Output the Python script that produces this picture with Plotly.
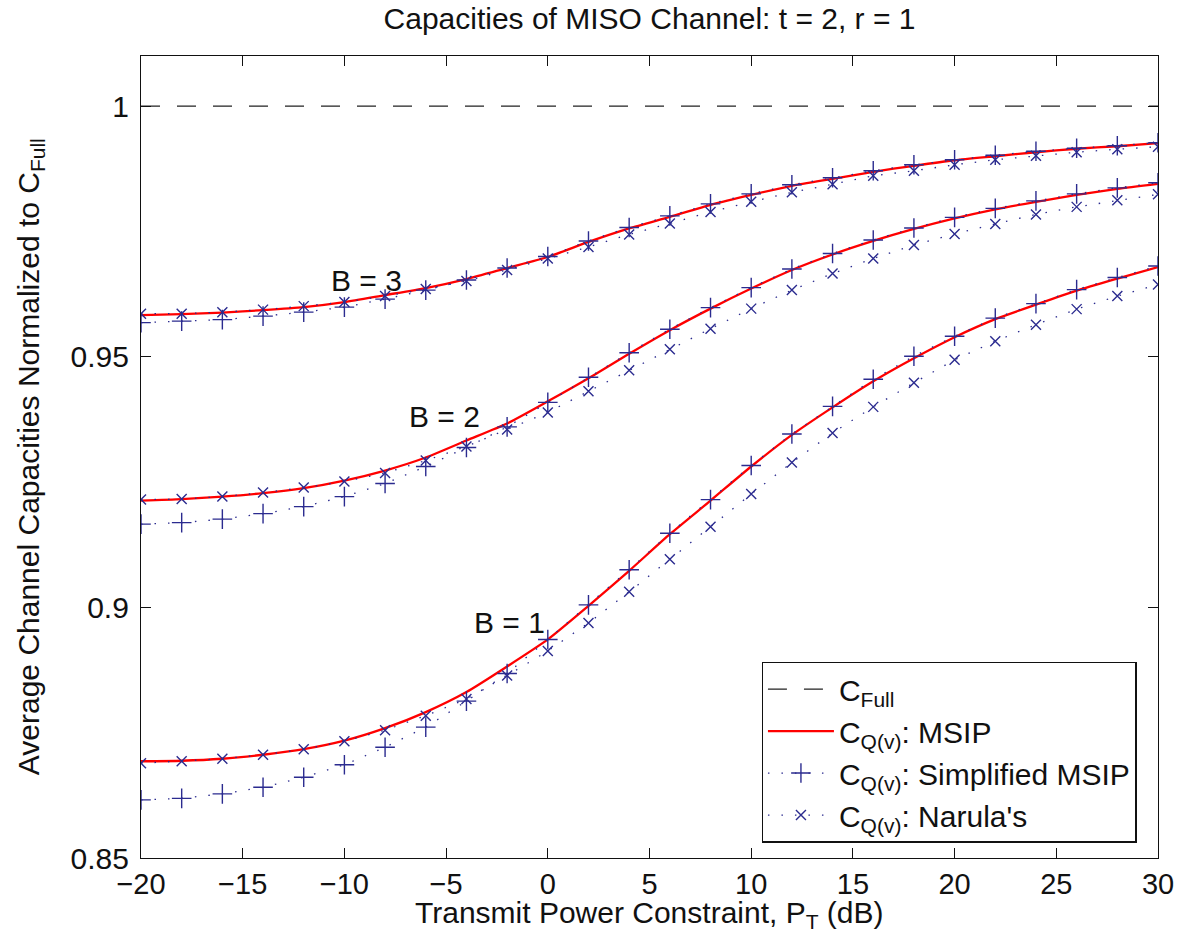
import plotly.graph_objects as go

# ---------------- data ----------------
x_db = [-20, -18, -16, -14, -12, -10, -8, -6, -4, -2, 0, 2, 4, 6, 8, 10,
        12, 14, 16, 18, 20, 22, 24, 26, 28, 30]

c_full = [1.0, 1.0]
c_full_x = [-20, 30]

msip_b1 = [0.8693, 0.8694, 0.8698, 0.8706, 0.8717, 0.8734, 0.8759, 0.8791, 0.8831, 0.8882,
           0.8936, 0.9003, 0.9073, 0.9146, 0.9213, 0.9281, 0.9344, 0.9399, 0.9451, 0.9497,
           0.9539, 0.9575, 0.9604, 0.9632, 0.9656, 0.9679]
simp_b1 = [0.8616, 0.8619, 0.8628, 0.8641, 0.8661, 0.8686, 0.8721, 0.8761, 0.8813, 0.8868,
           0.8936, 0.9005, 0.9075, 0.9148, 0.9215, 0.9283, 0.9346, 0.9401, 0.9455, 0.9501,
           0.9541, 0.9577, 0.9606, 0.9634, 0.9658, 0.9681]
narula_b1 = [0.8689, 0.8693, 0.8698, 0.8706, 0.8717, 0.8733, 0.8755, 0.8784, 0.8817, 0.8864,
             0.8913, 0.8969, 0.9031, 0.9096, 0.9161, 0.9226, 0.9289, 0.9348, 0.9400, 0.9448,
             0.9494, 0.9531, 0.9564, 0.9595, 0.9621, 0.9644]

msip_b2 = [0.9213, 0.9216, 0.9221, 0.9228, 0.9238, 0.9253, 0.9273, 0.9299, 0.9333, 0.9367,
           0.9411, 0.9457, 0.9506, 0.9553, 0.9596, 0.9636, 0.9673, 0.9704, 0.9731, 0.9755,
           0.9776, 0.9794, 0.9809, 0.9823, 0.9835, 0.9845]
simp_b2 = [0.9166, 0.9169, 0.9176, 0.9187, 0.9201, 0.9221, 0.9247, 0.9281, 0.9319, 0.9360,
           0.9409, 0.9459, 0.9508, 0.9555, 0.9598, 0.9638, 0.9675, 0.9706, 0.9733, 0.9757,
           0.9778, 0.9796, 0.9811, 0.9825, 0.9837, 0.9847]
narula_b2 = [0.9215, 0.9216, 0.9221, 0.9229, 0.9239, 0.9251, 0.9268, 0.9293, 0.9321, 0.9355,
             0.9389, 0.9431, 0.9473, 0.9515, 0.9556, 0.9596, 0.9633, 0.9666, 0.9696, 0.9723,
             0.9745, 0.9765, 0.9784, 0.9799, 0.9812, 0.9824]

msip_b3 = [0.9583, 0.9585, 0.9588, 0.9593, 0.9599, 0.9609, 0.9623, 0.9637, 0.9655, 0.9677,
           0.9699, 0.9729, 0.9756, 0.9779, 0.9803, 0.9823, 0.9841, 0.9855, 0.9869, 0.9881,
           0.9892, 0.9900, 0.9908, 0.9915, 0.9920, 0.9926]
simp_b3 = [0.9568, 0.9571, 0.9574, 0.9581, 0.9589, 0.9599, 0.9615, 0.9633, 0.9653, 0.9677,
           0.9700, 0.9731, 0.9758, 0.9781, 0.9805, 0.9825, 0.9843, 0.9857, 0.9871, 0.9883,
           0.9893, 0.9902, 0.9910, 0.9916, 0.9921, 0.9927]
narula_b3 = [0.9586, 0.9586, 0.9589, 0.9594, 0.9601, 0.9609, 0.9621, 0.9635, 0.9651, 0.9673,
             0.9696, 0.9719, 0.9744, 0.9766, 0.9789, 0.9809, 0.9828, 0.9844, 0.9861, 0.9871,
             0.9883, 0.9893, 0.9901, 0.9908, 0.9914, 0.9919]

b_labels = ["B = 1", "B = 2", "B = 3"]
b_label_x = [-1.9, -5.1, -8.9]
b_label_y = [0.897, 0.938, 0.9652]

y_tickvals = [0.85, 0.9, 0.95, 1.0]
y_ticktext = ["0.85", "0.9", "0.95", "1"]

title_text = "Capacities of MISO Channel: t = 2, r = 1"
xlabel = "Transmit Power Constraint, P<sub>T</sub> (dB)"
ylabel = "Average Channel Capacities Normalized to C<sub>Full</sub>"
names = ["C<sub>Full</sub>", "C<sub>Q(v)</sub>: MSIP",
         "C<sub>Q(v)</sub>: Simplified MSIP", "C<sub>Q(v)</sub>: Narula's"]

# ---------------- styles ----------------
FONT = "Liberation Sans, Arial, Helvetica, sans-serif"
FS = 30
RED = "#ff0000"
BLUE = "#2b2b8f"

fig = go.Figure()

fig.add_trace(go.Scatter(
    x=c_full_x, y=c_full, mode="lines", name=names[0],
    line=dict(color="#222222", width=1.2, dash="19px,17px"),
    legendrank=1))

series = [(msip_b1, simp_b1, narula_b1), (msip_b2, simp_b2, narula_b2),
          (msip_b3, simp_b3, narula_b3)]
for i, (m, s, n) in enumerate(series):
    first = i == 0
    fig.add_trace(go.Scatter(
        x=x_db, y=m, mode="lines", name=names[1], legendgroup="msip",
        showlegend=first, legendrank=2,
        line=dict(color=RED, width=2.3, shape="spline", smoothing=0.6)))
    fig.add_trace(go.Scatter(
        x=x_db, y=s, mode="lines+markers", name=names[2], legendgroup="simp",
        showlegend=first, legendrank=3,
        line=dict(color=BLUE, width=1.3, dash="1.5px,12px"),
        marker=dict(symbol="cross-thin", size=14, color=BLUE,
                    line=dict(color=BLUE, width=1.4))))
    fig.add_trace(go.Scatter(
        x=x_db, y=n, mode="lines+markers", name=names[3], legendgroup="nar",
        showlegend=first, legendrank=4,
        line=dict(color=BLUE, width=1.3, dash="1.5px,12px"),
        marker=dict(symbol="x-thin", size=10, color=BLUE,
                    line=dict(color=BLUE, width=1.4))))

for lab, lx, ly in zip(b_labels, b_label_x, b_label_y):
    fig.add_annotation(x=lx, y=ly, text=lab, showarrow=False,
                       font=dict(family=FONT, size=FS, color="#111111"),
                       xanchor="center", yanchor="middle")

# axis titles as annotations
fig.add_annotation(xref="paper", yref="paper", x=0.5, y=-0.071, text=xlabel,
                   showarrow=False, xanchor="center", yanchor="middle",
                   font=dict(family=FONT, size=FS, color="#111111"))
fig.add_annotation(xref="paper", yref="paper", x=-0.109, y=0.5, text=ylabel,
                   showarrow=False, xanchor="center", yanchor="middle",
                   textangle=-90,
                   font=dict(family=FONT, size=FS, color="#111111"))

axis_common = dict(showline=True, linecolor="#111111", linewidth=1.3,
                   mirror="ticks", ticks="inside", ticklen=10, tickwidth=1.2,
                   tickcolor="#111111", showgrid=False, zeroline=False,
                   automargin=False)

fig.update_xaxes(range=[-20, 30], tickmode="linear", tick0=-20, dtick=5,
                 ticklabelstandoff=0,
                 tickfont=dict(family=FONT, size=29, color="#111111"),
                 **axis_common)
fig.update_yaxes(range=[0.85, 1.01], tickvals=y_tickvals, ticktext=y_ticktext,
                 ticklabelstandoff=5,
                 tickfont=dict(family=FONT, size=FS, color="#111111"),
                 **axis_common)

fig.update_layout(
    width=1180, height=945,
    margin=dict(l=141, r=22, t=56, b=87, autoexpand=False),
    paper_bgcolor="white", plot_bgcolor="white",
    font=dict(family=FONT, size=FS, color="#111111"),
    title=dict(text=title_text, x=0.5, xref="paper", xanchor="center",
               y=1 - 8 / 945, yref="container", yanchor="top",
               font=dict(family=FONT, size=FS, color="#111111")),
    legend=dict(x=0.979, y=0.019, xanchor="right", yanchor="bottom",
                bgcolor="white", bordercolor="#111111", borderwidth=1.3,
                font=dict(family=FONT, size=FS, color="#111111"),
                tracegroupgap=0, itemwidth=66),
    showlegend=True,
)

fig.write_html("out.html")
